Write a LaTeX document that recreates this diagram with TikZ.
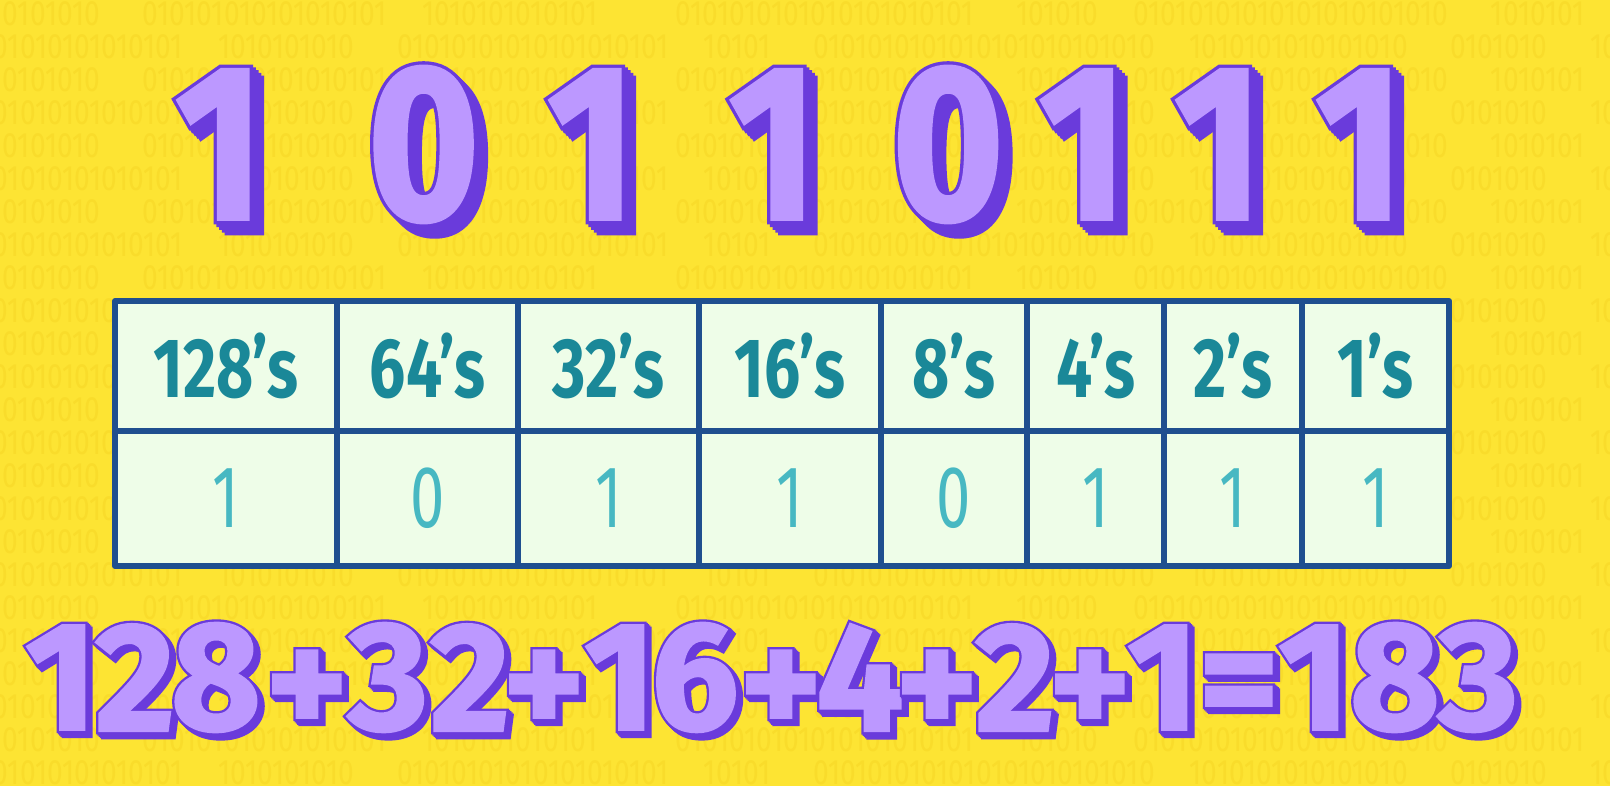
\documentclass[tikz,border=0pt]{standalone}
\usepackage{fontspec}
\setmainfont{Fira Sans}
\newfontfamily\headfont{Fira Sans}[FakeStretch=0.76]
\newfontfamily\valfont{Fira Sans}[FakeStretch=0.7]
\newfontfamily\bitfont{Fira Sans}[FakeStretch=0.8]
\newfontfamily\topfacefont{Fira Sans Bold}[FakeBold=1.5, FakeStretch=0.86]
\newfontfamily\topedgefont{Fira Sans Bold}[FakeBold=4.5, FakeStretch=0.86]
\newfontfamily\sumfacefont{Fira Sans Bold}[FakeBold=1.5]
\newfontfamily\sumedgefont{Fira Sans Bold}[FakeBold=4.5]
\usepackage{tikz}
\usetikzlibrary{positioning}

\definecolor{bgyellow}{HTML}{FDE433}
\definecolor{bityellow}{HTML}{F9DC2B}
\definecolor{cellfill}{HTML}{EEFDE8}
\definecolor{gridblue}{HTML}{1F4F8F}
\definecolor{headteal}{HTML}{1A8898}
\definecolor{valteal}{HTML}{47B8C2}
\definecolor{numlight}{HTML}{BC98FF}
\definecolor{numdark}{HTML}{6A3BDB}

\newcommand{\topface}{\topfacefont\fontsize{63}{63}\selectfont}
\newcommand{\topedge}{\topedgefont\fontsize{63}{63}\selectfont}
\newcommand{\sumface}{\sumfacefont\fontsize{44}{44}\selectfont}
\newcommand{\sumedge}{\sumedgefont\fontsize{44}{44}\selectfont}

\tikzset{
	gridline/.style={draw=gridblue, line width=1.7pt, line join=round},
	cellhead/.style={font=\headfont\bfseries\fontsize{24}{24}\selectfont, text=headteal, inner sep=0pt},
	cellval/.style={font=\valfont\fontsize{25}{25}\selectfont, text=valteal, inner sep=0pt},
	bits/.style={font=\bitfont\fontsize{10}{10}\selectfont, text=bityellow, inner sep=0pt, anchor=west},
}

% outlined purple number with a stepped shadow
% #1 top or sum, #2 name, #3 position, #4 text, #5 shadow depth (cm)
\newcommand{\puffnum}[5]{%
	\foreach \k in {1,...,4} {
		\node[inner sep=0pt, text=numdark, font=\csname #1edge\endcsname,
			xshift=\k*#5*2.5mm, yshift=-\k*#5*2.5mm] at (#3) {#4};
	}
	\node[inner sep=0pt, text=numdark, font=\csname #1edge\endcsname] at (#3) {#4};
	\node[inner sep=0pt, text=numlight, font=\csname #1face\endcsname] (#2) at (#3) {#4};
}

\newcommand{\bitrowa}{0101010101010101\quad 1010101010 \quad 01010101010101010101\quad 10101 \quad 0101010101010101010101010\quad 1010101010101010 \quad 0101010 \quad 10101010101010101010}
\newcommand{\bitrowb}{10101010 \quad 010101010101010101\quad 1010101010101 \qquad 0101010101010101010101 \quad 101010\quad 01010101010101010101010 \quad 1010101 \quad 0101010101010101}

\begin{document}
\begin{tikzpicture}
		%\draw[help lines] (0,0) grid (16,8);
		\useasboundingbox (0,0) rectangle (16.1,7.86);
		\fill[bgyellow] (0,0) rectangle (16.1,7.86);
		% faint binary digits in the background
		\begin{scope}
			\clip (0,0) rectangle (16.1,7.86);
			\foreach \r in {0,...,23} {
				\ifodd\r
					\node[bits] (bits\r) at (-0.35,7.72-\r*0.33) {\bitrowa};
				\else
					\node[bits] (bits\r) at (-0.1,7.72-\r*0.33) {\bitrowb};
				\fi
			}
		\end{scope}

		% place value table
		\fill[cellfill] (1.15,2.20) rectangle (14.49,4.85);
		\draw[gridline] (1.15,2.20) rectangle (14.49,4.85);
		\draw[gridline] (1.15,3.55) -- (14.49,3.55);
		\foreach \x in {3.37,5.18,6.99,8.81,10.27,11.64,13.02} {
			\draw[gridline] (\x,2.20) -- (\x,4.85);
		}
		\foreach \l/\r/\h/\v [count=\i] in {1.15/3.37/128/1, 3.37/5.18/64/0, 5.18/6.99/32/1, 6.99/8.81/16/1, 8.81/10.27/8/0, 10.27/11.64/4/1, 11.64/13.02/2/1, 13.02/14.49/1/1} {
			\node[cellhead] (head\i) at ({(\l+\r)/2},4.20) {\h’s};
			\node[cellval] (val\i) at ({(\l+\r)/2},2.875) {\v};
		}

		% the binary number
		\foreach \x/\d [count=\i] in {2.195/1, 4.235/0, 5.915/1, 7.73/1, 9.48/0, 10.83/1, 12.185/1, 13.595/1} {
			\puffnum{top}{bin\i}{\x,6.415}{\d}{0.11}
		}

		% the sum
		\foreach \x/\y/\c [count=\i] in {0.61/1.085/1, 1.35/1.085/2, 2.16/1.085/8, 3.07/0.93/+, 3.88/1.085/3, 4.70/1.085/2, 5.44/0.93/+, 6.20/1.085/1, 6.95/1.085/6, 7.81/0.93/+, 8.60/1.085/4, 9.37/0.93/+, 10.15/1.085/2, 10.90/0.93/+, 11.63/1.085/1, 12.39/0.93/=, 13.14/1.085/1, 13.95/1.085/8, 14.78/1.085/3} {
			\puffnum{sum}{sum\i}{\x,\y}{\c}{0.05}
		}
\end{tikzpicture}
\end{document}
